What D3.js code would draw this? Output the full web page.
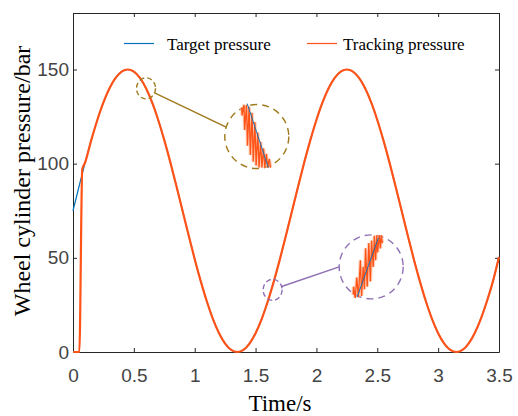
<!DOCTYPE html>
<html>
<head>
<meta charset="utf-8">
<script src="https://cdn.jsdelivr.net/npm/d3@7"></script>
<style>
  body { margin: 0; background: #fff; }
  .axis path, .axis line { stroke: #262626; }
  .axis text { font-family: "Liberation Sans", Arial, sans-serif; font-size: 19px; fill: #444; }
</style>
</head>
<body>
<div id="chart"></div>
<script>
// Sample times (s)
const times = [0, 0.05, 0.1, 0.15, 0.2, 0.25, 0.3, 0.35, 0.4, 0.45,
  0.5, 0.55, 0.6, 0.65, 0.7, 0.75, 0.8, 0.85, 0.9, 0.95,
  1, 1.05, 1.1, 1.15, 1.2, 1.25, 1.3, 1.35, 1.4, 1.45,
  1.5, 1.55, 1.6, 1.65, 1.7, 1.75, 1.8, 1.85, 1.9, 1.95,
  2, 2.05, 2.1, 2.15, 2.2, 2.25, 2.3, 2.35, 2.4, 2.45,
  2.5, 2.55, 2.6, 2.65, 2.7, 2.75, 2.8, 2.85, 2.9, 2.95,
  3, 3.05, 3.1, 3.15, 3.2, 3.25, 3.3, 3.35, 3.4, 3.45, 3.5];

// Target pressure (bar)
const targetPressure = [75, 88, 100.7, 112.5, 123.2, 132.5, 140, 145.5, 148.9, 150,
  148.9, 145.5, 140, 132.5, 123.2, 112.5, 100.7, 88, 75, 62,
  49.3, 37.5, 26.8, 17.5, 10, 4.5, 1.1, 0, 1.1, 4.5,
  10, 17.5, 26.8, 37.5, 49.3, 62, 75, 88, 100.7, 112.5,
  123.2, 132.5, 140, 145.5, 148.9, 150, 148.9, 145.5, 140, 132.5,
  123.2, 112.5, 100.7, 88, 75, 62, 49.3, 37.5, 26.8, 17.5,
  10, 4.5, 1.1, 0, 1.1, 4.5, 10, 17.5, 26.8, 37.5, 50.5];

// Tracking pressure start-up, after that it sits on the target
const trackStartTimes = [0, 0.052, 0.076];
const trackStartValues = [0, 0, 97];
const trackJoinTime = 0.1;

const xTicks = [0, 0.5, 1, 1.5, 2, 2.5, 3, 3.5];
const yTicks = [0, 50, 100, 150];

// Zoom annotations: spot on the curve and where the magnified view sits
const zoomSpots = [[0.6, 140], [1.64, 33]];
const zoomViews = [[1.51, 114.4], [2.45, 45.2]];

// Magnified details, local units (0..1 across each view)
const insetTarget1 = [[0.2, 1.0], [0.86, 0.03]];
const insetTrack1 = [[0.03, 0.94], [0.04, 0.82], [0.1, 0.98], [0.12, 0.6], [0.18, 0.98],
  [0.21, 0.36], [0.26, 0.95], [0.3, 0.22], [0.35, 0.86], [0.39, 0.12], [0.44, 0.72],
  [0.48, 0.06], [0.53, 0.56], [0.57, 0.03], [0.62, 0.42], [0.66, 0.03], [0.71, 0.32],
  [0.75, 0.03], [0.8, 0.24], [0.84, 0.03], [0.89, 0.16], [0.93, 0.03]];
const insetTarget2 = [[0.2, 0.045], [0.73, 0.94]];
const insetTrack2 = [[0.1, 0.08], [0.11, 0.2], [0.15, 0.03], [0.19, 0.34], [0.23, 0.04],
  [0.28, 0.6], [0.31, 0.06], [0.35, 0.5], [0.38, 0.16], [0.41, 0.78], [0.45, 0.2],
  [0.49, 0.86], [0.53, 0.28], [0.56, 0.9], [0.6, 0.5], [0.63, 0.97], [0.66, 0.6],
  [0.69, 0.98], [0.71, 0.72], [0.75, 0.98], [0.78, 0.78], [0.8, 0.98], [0.83, 0.86]];

const blue = '#0072bd';
const orange = '#ff5317';
const insetColors = ['#a07a1c', '#8e70b4'];

const margin = { top: 13, right: 19, bottom: 64, left: 73 };
const width = 518 - margin.left - margin.right;
const height = 416 - margin.top - margin.bottom;

const svg = d3.select('#chart').append('svg')
  .attr('width', 518).attr('height', 416)
  .style('display', 'block');

const g = svg.append('g').attr('transform', `translate(${margin.left},${margin.top})`);

const x = d3.scaleLinear().domain([0, 3.5]).range([0, width]);
const y = d3.scaleLinear().domain([0, 180]).range([height, 0]);

const targetData = times.map((t, i) => [t, targetPressure[i]]);
const trackData = trackStartTimes.map((t, i) => [t, trackStartValues[i]])
  .concat(targetData.filter(d => d[0] >= trackJoinTime));

// Axes, MATLAB-like box with inward ticks
g.append('g').attr('class', 'axis')
  .attr('transform', `translate(0,${height})`)
  .call(d3.axisBottom(x).tickValues(xTicks).tickFormat(d => String(d))
    .tickSize(-4).tickSizeOuter(0).tickPadding(17));
g.append('g').attr('class', 'axis')
  .call(d3.axisLeft(y).tickValues(yTicks).tickFormat(d => String(d))
    .tickSize(-4).tickSizeOuter(0).tickPadding(4));
g.append('g').attr('class', 'axis')
  .call(d3.axisTop(x).tickValues(xTicks).tickFormat('').tickSize(-4).tickSizeOuter(0));
g.append('g').attr('class', 'axis')
  .attr('transform', `translate(${width},0)`)
  .call(d3.axisRight(y).tickValues(yTicks).tickFormat('').tickSize(-4).tickSizeOuter(0));

// Lines
const line = d3.line().x(d => x(d[0])).y(d => y(d[1])).curve(d3.curveMonotoneX);

g.append('path').datum(targetData)
  .attr('fill', 'none').attr('stroke', blue).attr('stroke-width', 1.2)
  .attr('d', line);
g.append('path').datum(trackData)
  .attr('fill', 'none').attr('stroke', orange).attr('stroke-width', 2.2)
  .attr('d', line);

// Zoom annotations
const bigR = 32;
const anchorAngles = [197, 180];
const boxes = [
  { left: -16, right: 16, top: -33, bottom: 33 },
  { left: -22, right: 18, top: -33, bottom: 33 },
];
const insets = [[insetTarget1, insetTrack1], [insetTarget2, insetTrack2]];

zoomSpots.forEach((spot, i) => {
  const col = insetColors[i];
  const sx = x(spot[0]), sy = y(spot[1]);
  const cx = x(zoomViews[i][0]), cy = y(zoomViews[i][1]);
  const a = anchorAngles[i] * Math.PI / 180;
  const ex = cx + bigR * Math.cos(a), ey = cy + bigR * Math.sin(a);
  const len = Math.hypot(ex - sx, ey - sy);
  const rx = 9.5, ry = 10.5;
  const bx = sx + rx * (ex - sx) / len, by = sy + ry * (ey - sy) / len;

  g.append('ellipse')
    .attr('cx', sx).attr('cy', sy).attr('rx', rx).attr('ry', ry)
    .attr('fill', 'none').attr('stroke', col).attr('stroke-width', 1.4)
    .attr('stroke-dasharray', '5,3');
  g.append('line')
    .attr('x1', bx).attr('y1', by).attr('x2', ex).attr('y2', ey)
    .attr('stroke', col).attr('stroke-width', 1.5);
  g.append('circle')
    .attr('cx', cx).attr('cy', cy).attr('r', bigR)
    .attr('fill', '#fff').attr('stroke', col).attr('stroke-width', 1.4)
    .attr('stroke-dasharray', '7,5');

  const b = boxes[i];
  const ix = d3.scaleLinear().domain([0, 1]).range([cx + b.left, cx + b.right]);
  const iy = d3.scaleLinear().domain([0, 1]).range([cy + b.bottom, cy + b.top]);
  const iline = d3.line().x(d => ix(d[0])).y(d => iy(d[1]));

  // soft band behind the oscillation, as in the anti-aliased original
  g.append('path').datum(insets[i][1])
    .attr('fill', 'none').attr('stroke', '#ffb08a').attr('stroke-width', 3.5)
    .attr('stroke-opacity', 0.6).attr('d', iline);
  g.append('path').datum(insets[i][1])
    .attr('fill', 'none').attr('stroke', orange).attr('stroke-width', 1.3)
    .attr('d', iline);
  g.append('path').datum(insets[i][0])
    .attr('fill', 'none').attr('stroke', blue).attr('stroke-width', 0.9)
    .attr('d', iline);
});

// Legend
const legend = svg.append('g')
  .style('font-family', '"Liberation Serif", "Times New Roman", serif')
  .style('font-size', '17px');
[[blue, 'Target pressure', 124, 167], [orange, 'Tracking pressure', 307, 343]].forEach(([c, label, lx, tx]) => {
  legend.append('line').attr('x1', lx).attr('x2', lx + 30).attr('y1', 43.5).attr('y2', 43.5)
    .attr('stroke', c).attr('stroke-width', 1.2);
  legend.append('text').attr('x', tx).attr('y', 49.5).attr('fill', '#000').text(label);
});

// Axis titles
svg.append('text')
  .attr('x', 280).attr('y', 411)
  .attr('text-anchor', 'middle')
  .style('font-family', '"Liberation Serif", "Times New Roman", serif')
  .style('font-size', '23px')
  .text('Time/s');
svg.append('text')
  .attr('transform', 'translate(30,181) rotate(-90)')
  .attr('text-anchor', 'middle')
  .style('font-family', '"Liberation Serif", "Times New Roman", serif')
  .style('font-size', '24px')
  .text('Wheel cylinder pressure/bar');
</script>
</body>
</html>
